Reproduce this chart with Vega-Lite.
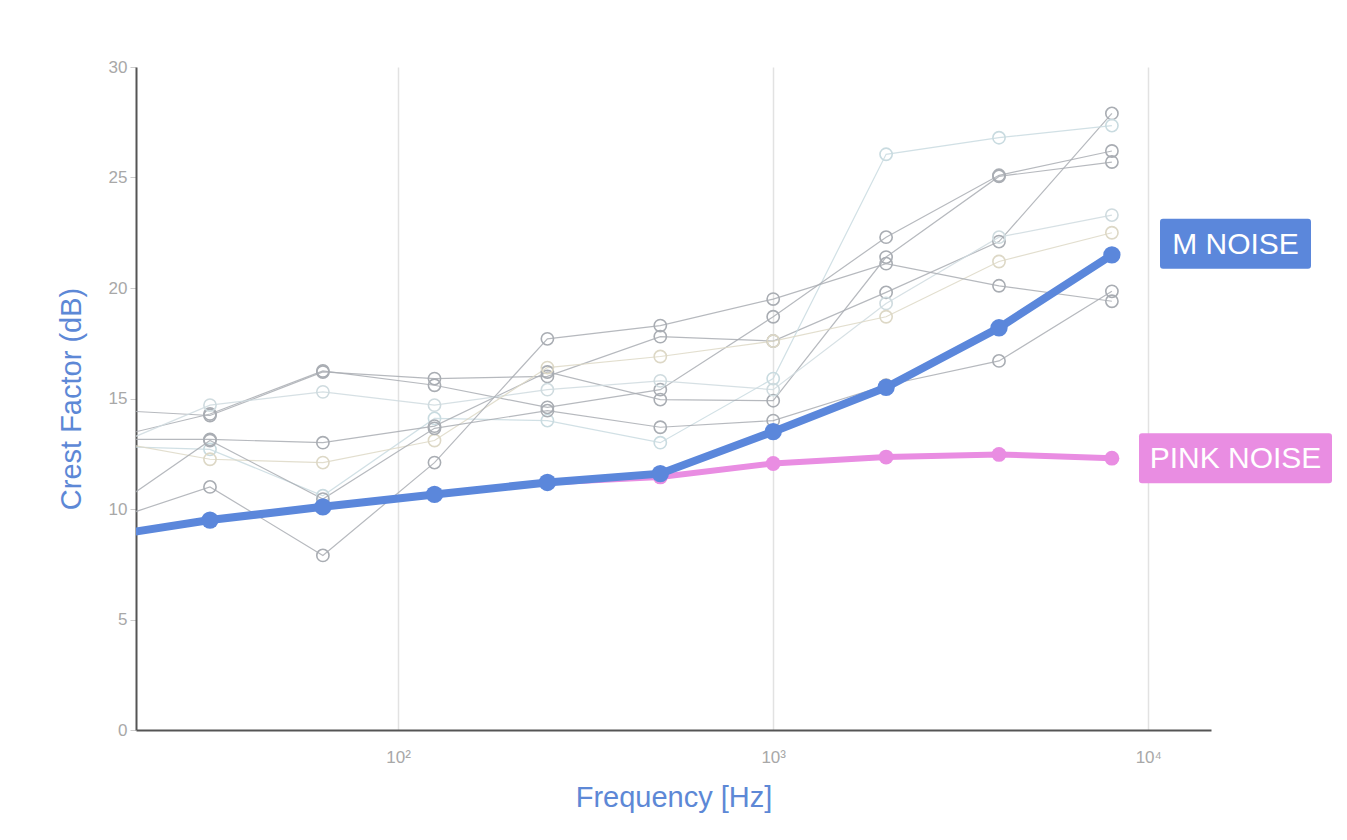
{
  "$schema": "https://vega.github.io/schema/vega-lite/v6.json",
  "width": 1075,
  "height": 663,
  "autosize": {"type": "none"},
  "padding": {"left": 136, "top": 67, "right": 136, "bottom": 110},
  "background": "white",
  "config": {
    "view": {"stroke": null},
    "font": "Liberation Sans"
  },
  "data": {
    "values": [
      {"series": "S1", "f": 16, "v": 14.5}, {"series": "S1", "f": 31.5, "v": 14.23}, {"series": "S1", "f": 63, "v": 16.2}, {"series": "S1", "f": 125, "v": 15.9}, {"series": "S1", "f": 250, "v": 16.0}, {"series": "S1", "f": 500, "v": 17.8}, {"series": "S1", "f": 1000, "v": 17.6}, {"series": "S1", "f": 2000, "v": 19.8}, {"series": "S1", "f": 4000, "v": 22.1}, {"series": "S1", "f": 8000, "v": 27.9},
      {"series": "S2", "f": 16, "v": 12.85}, {"series": "S2", "f": 31.5, "v": 12.7}, {"series": "S2", "f": 63, "v": 10.6}, {"series": "S2", "f": 125, "v": 14.1}, {"series": "S2", "f": 250, "v": 14.0}, {"series": "S2", "f": 500, "v": 13.0}, {"series": "S2", "f": 1000, "v": 15.9}, {"series": "S2", "f": 2000, "v": 26.05}, {"series": "S2", "f": 4000, "v": 26.8}, {"series": "S2", "f": 8000, "v": 27.35},
      {"series": "S3", "f": 16, "v": 13.1}, {"series": "S3", "f": 31.5, "v": 14.3}, {"series": "S3", "f": 63, "v": 16.25}, {"series": "S3", "f": 125, "v": 15.6}, {"series": "S3", "f": 250, "v": 14.6}, {"series": "S3", "f": 500, "v": 15.4}, {"series": "S3", "f": 1000, "v": 18.7}, {"series": "S3", "f": 2000, "v": 22.3}, {"series": "S3", "f": 4000, "v": 25.1}, {"series": "S3", "f": 8000, "v": 26.2},
      {"series": "S4", "f": 16, "v": 13.15}, {"series": "S4", "f": 31.5, "v": 13.15}, {"series": "S4", "f": 63, "v": 13.0}, {"series": "S4", "f": 125, "v": 13.75}, {"series": "S4", "f": 250, "v": 16.2}, {"series": "S4", "f": 500, "v": 14.95}, {"series": "S4", "f": 1000, "v": 14.9}, {"series": "S4", "f": 2000, "v": 21.4}, {"series": "S4", "f": 4000, "v": 25.05}, {"series": "S4", "f": 8000, "v": 25.7},
      {"series": "S5", "f": 16, "v": 12.6}, {"series": "S5", "f": 31.5, "v": 14.7}, {"series": "S5", "f": 63, "v": 15.3}, {"series": "S5", "f": 125, "v": 14.7}, {"series": "S5", "f": 250, "v": 15.4}, {"series": "S5", "f": 500, "v": 15.8}, {"series": "S5", "f": 1000, "v": 15.4}, {"series": "S5", "f": 2000, "v": 19.3}, {"series": "S5", "f": 4000, "v": 22.3}, {"series": "S5", "f": 8000, "v": 23.3},
      {"series": "S6", "f": 16, "v": 13.15}, {"series": "S6", "f": 31.5, "v": 12.25}, {"series": "S6", "f": 63, "v": 12.1}, {"series": "S6", "f": 125, "v": 13.1}, {"series": "S6", "f": 250, "v": 16.4}, {"series": "S6", "f": 500, "v": 16.9}, {"series": "S6", "f": 1000, "v": 17.6}, {"series": "S6", "f": 2000, "v": 18.7}, {"series": "S6", "f": 4000, "v": 21.2}, {"series": "S6", "f": 8000, "v": 22.5},
      {"series": "S7", "f": 16, "v": 9.34}, {"series": "S7", "f": 31.5, "v": 11.0}, {"series": "S7", "f": 63, "v": 7.9}, {"series": "S7", "f": 125, "v": 12.1}, {"series": "S7", "f": 250, "v": 17.7}, {"series": "S7", "f": 500, "v": 18.3}, {"series": "S7", "f": 1000, "v": 19.5}, {"series": "S7", "f": 2000, "v": 21.1}, {"series": "S7", "f": 4000, "v": 20.1}, {"series": "S7", "f": 8000, "v": 19.4},
      {"series": "S8", "f": 16, "v": 9.64}, {"series": "S8", "f": 31.5, "v": 13.1}, {"series": "S8", "f": 63, "v": 10.45}, {"series": "S8", "f": 125, "v": 13.65}, {"series": "S8", "f": 250, "v": 14.45}, {"series": "S8", "f": 500, "v": 13.7}, {"series": "S8", "f": 1000, "v": 14.0}, {"series": "S8", "f": 2000, "v": 15.6}, {"series": "S8", "f": 4000, "v": 16.7}, {"series": "S8", "f": 8000, "v": 19.85},
      {"series": "PINK NOISE", "f": 16, "v": 8.73}, {"series": "PINK NOISE", "f": 31.5, "v": 9.5}, {"series": "PINK NOISE", "f": 63, "v": 10.1}, {"series": "PINK NOISE", "f": 125, "v": 10.66}, {"series": "PINK NOISE", "f": 250, "v": 11.2}, {"series": "PINK NOISE", "f": 500, "v": 11.45}, {"series": "PINK NOISE", "f": 1000, "v": 12.06}, {"series": "PINK NOISE", "f": 2000, "v": 12.35}, {"series": "PINK NOISE", "f": 4000, "v": 12.47}, {"series": "PINK NOISE", "f": 8000, "v": 12.3},
      {"series": "M NOISE", "f": 16, "v": 8.73}, {"series": "M NOISE", "f": 31.5, "v": 9.5}, {"series": "M NOISE", "f": 63, "v": 10.1}, {"series": "M NOISE", "f": 125, "v": 10.66}, {"series": "M NOISE", "f": 250, "v": 11.2}, {"series": "M NOISE", "f": 500, "v": 11.6}, {"series": "M NOISE", "f": 1000, "v": 13.5}, {"series": "M NOISE", "f": 2000, "v": 15.5}, {"series": "M NOISE", "f": 4000, "v": 18.2}, {"series": "M NOISE", "f": 8000, "v": 21.5}
    ]
  },
  "encoding": {
    "x": {
      "field": "f", "type": "quantitative",
      "scale": {"type": "log", "domain": [20, 14700]},
      "axis": {
        "title": "Frequency [Hz]",
        "values": [100, 1000, 10000],
        "labelExpr": "datum.value == 100 ? '10²' : datum.value == 1000 ? '10³' : '10⁴'",
        "labelFontSize": 17, "labelColor": "#a8a8a8", "labelPadding": 19,
        "ticks": false,
        "grid": true, "gridColor": "#e2e2e2", "gridWidth": 1.5,
        "domainColor": "#555555", "domainWidth": 2,
        "titleFontSize": 29, "titleColor": "#5d88d6", "titleFontWeight": "normal", "titlePadding": 18
      }
    },
    "y": {
      "field": "v", "type": "quantitative",
      "scale": {"domain": [0, 30]},
      "axis": {
        "title": "Crest Factor (dB)",
        "values": [0, 5, 10, 15, 20, 25, 30],
        "labelFontSize": 17, "labelColor": "#a8a8a8", "labelPadding": 3,
        "ticks": true, "tickColor": "#cccccc", "tickSize": 6,
        "grid": false,
        "domainColor": "#555555", "domainWidth": 2,
        "titleFontSize": 29, "titleColor": "#5d88d6", "titleFontWeight": "normal", "titlePadding": 22
      }
    }
  },
  "layer": [
    {
      "transform": [{"filter": "datum.series != 'M NOISE' && datum.series != 'PINK NOISE'"}],
      "mark": {"type": "line", "strokeWidth": 1.2, "clip": true, "opacity": 0.85},
      "encoding": {
        "color": {"field": "series", "type": "nominal", "legend": null,
          "scale": {"domain": ["S1", "S2", "S3", "S4", "S5", "S6", "S7", "S8"],
                    "range": ["#a9adb3", "#c9dbe0", "#a9adb3", "#a9adb3", "#cfdbdf", "#ddd8c6", "#a9adb3", "#a9adb3"]}}
      }
    },
    {
      "transform": [{"filter": "datum.series != 'M NOISE' && datum.series != 'PINK NOISE'"}],
      "mark": {"type": "point", "filled": false, "size": 150, "strokeWidth": 1.6, "clip": true, "opacity": 1},
      "encoding": {
        "color": {"field": "series", "type": "nominal", "legend": null,
          "scale": {"domain": ["S1", "S2", "S3", "S4", "S5", "S6", "S7", "S8"],
                    "range": ["#9ba0a8", "#c4d8de", "#9ba0a8", "#9ba0a8", "#c9d7dc", "#dcd6c2", "#9ba0a8", "#9ba0a8"]}}
      }
    },
    {
      "transform": [{"filter": "datum.series == 'PINK NOISE'"}],
      "mark": {"type": "line", "strokeWidth": 6, "color": "#e98de2", "clip": true}
    },
    {
      "transform": [{"filter": "datum.series == 'PINK NOISE' && datum.f > 20"}],
      "mark": {"type": "point", "filled": true, "size": 220, "color": "#e98de2", "opacity": 1, "clip": true}
    },
    {
      "transform": [{"filter": "datum.series == 'M NOISE'"}],
      "mark": {"type": "line", "strokeWidth": 8, "color": "#5b87db", "clip": true}
    },
    {
      "transform": [{"filter": "datum.series == 'M NOISE' && datum.f > 20"}],
      "mark": {"type": "point", "filled": true, "size": 300, "color": "#5b87db", "opacity": 1, "clip": true}
    },
    {
      "transform": [{"filter": "datum.series == 'M NOISE' && datum.f == 8000"}],
      "mark": {"type": "point", "filled": true, "opacity": 1, "color": "#5b87db", "size": 22801, "shape": "M-0.96,-0.331H0.96Q1,-0.331 1,-0.291V0.291Q1,0.331 0.96,0.331H-0.96Q-1,0.331 -1,0.291V-0.291Q-1,-0.331 -0.96,-0.331Z", "xOffset": 123.6, "yOffset": -11}
    },
    {
      "transform": [{"filter": "datum.series == 'M NOISE' && datum.f == 8000"}],
      "mark": {"type": "text", "color": "white", "fontSize": 30, "align": "center", "baseline": "middle", "xOffset": 123.6, "yOffset": -10},
      "encoding": {"text": {"field": "series"}}
    },
    {
      "transform": [{"filter": "datum.series == 'PINK NOISE' && datum.f == 8000"}],
      "mark": {"type": "point", "filled": true, "opacity": 1, "color": "#e98de2", "size": 37249, "shape": "M-0.969,-0.259H0.969Q1,-0.259 1,-0.228V0.228Q1,0.259 0.969,0.259H-0.969Q-1,0.259 -1,0.228V-0.228Q-1,-0.259 -0.969,-0.259Z", "xOffset": 123.6, "yOffset": 0}
    },
    {
      "transform": [{"filter": "datum.series == 'PINK NOISE' && datum.f == 8000"}],
      "mark": {"type": "text", "color": "white", "fontSize": 30, "align": "center", "baseline": "middle", "xOffset": 123.6, "yOffset": 1},
      "encoding": {"text": {"field": "series"}}
    }
  ]
}
